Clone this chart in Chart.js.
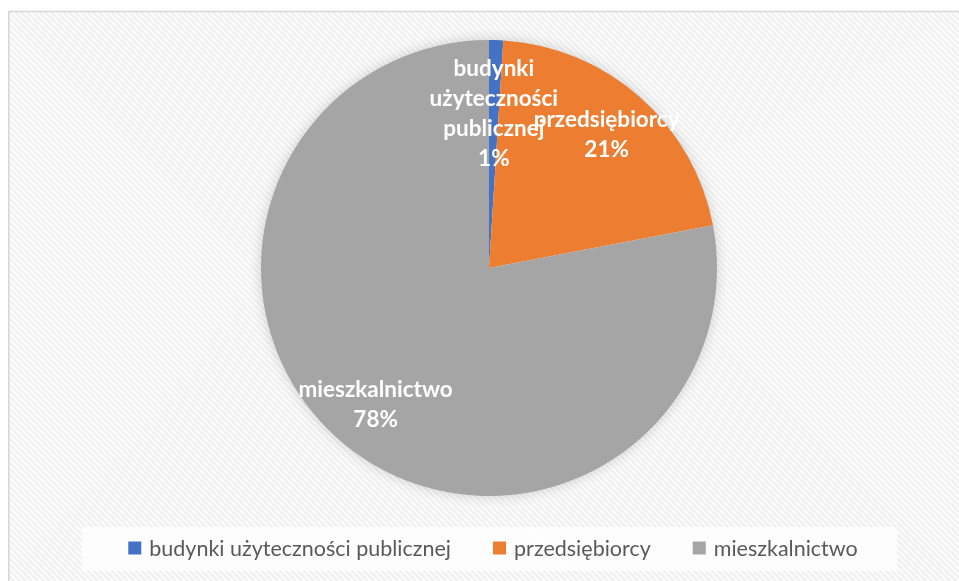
<!DOCTYPE html>
<html lang="pl">
<head>
<meta charset="utf-8">
<title>Struktura odbiorców</title>
<script src="https://cdn.jsdelivr.net/npm/chart.js@4.4.1/dist/chart.umd.min.js"></script>
<style>
  html, body { margin: 0; padding: 0; background: #ffffff; overflow: hidden; }
  #wrap { width: 959px; height: 581px; position: relative; }
</style>
</head>
<body>
<div id="wrap"><canvas id="chart" width="959" height="581"></canvas></div>
<script>
// Odbiorcy i ich udział procentowy
const categories = ['budynki użyteczności publicznej', 'przedsiębiorcy', 'mieszkalnictwo'];
const shares = [1, 21, 78];
const sliceColors = ['#4472C4', '#ED7D31', '#A5A5A5'];
// Etykiety na wycinkach, łamane na wiersze
const sliceLabelLines = [['budynki', 'użyteczności', 'publicznej'], ['przedsiębiorcy'], ['mieszkalnictwo']];

const LABEL_FONT = 'bold 22.5px Lato, "Open Sans", sans-serif';
const LEGEND_FONT = '21.5px Lato, "Open Sans", sans-serif';

// Tło obszaru wykresu: ukośne prążki i cienka ramka
const backgroundPlugin = {
  id: 'stripedBackground',
  beforeDraw(chart) {
    const ctx = chart.ctx;
    const W = chart.width, H = chart.height;
    const left = 8, top = 11;
    ctx.save();
    ctx.fillStyle = '#ffffff';
    ctx.fillRect(0, 0, W, H);
    ctx.fillStyle = '#fcfcfc';
    ctx.fillRect(left, top, W - left, H - top);
    ctx.beginPath();
    ctx.rect(left, top, W - left, H - top);
    ctx.clip();
    ctx.strokeStyle = '#f0f0f0';
    ctx.lineWidth = 2.2;
    const span = H - top;
    for (let k = left - span; k < W + 10; k += 6) {
      ctx.beginPath();
      ctx.moveTo(k, top);
      ctx.lineTo(k + span, top + span);
      ctx.stroke();
    }
    ctx.restore();
    ctx.save();
    ctx.strokeStyle = '#d6d6d6';
    ctx.lineWidth = 1.5;
    ctx.beginPath();
    ctx.moveTo(8.75, H + 2);
    ctx.lineTo(8.75, 11.5);
    ctx.lineTo(W + 2, 11.5);
    ctx.stroke();
    ctx.restore();
  }
};

// Miękki cień pod kołem
const shadowPlugin = {
  id: 'pieShadow',
  beforeDatasetsDraw(chart) {
    const arc = chart.getDatasetMeta(0).data[0];
    if (!arc) return;
    const p = arc.getProps(['x', 'y', 'outerRadius'], true);
    const ctx = chart.ctx;
    ctx.save();
    ctx.shadowColor = 'rgba(0,0,0,0.2)';
    ctx.shadowBlur = 14;
    ctx.fillStyle = '#ffffff';
    ctx.beginPath();
    ctx.arc(p.x, p.y, p.outerRadius - 1, 0, Math.PI * 2);
    ctx.fill();
    ctx.restore();
  }
};

// Etykiety danych wewnątrz wycinków
const sliceLabelPlugin = {
  id: 'sliceLabels',
  afterDatasetsDraw(chart) {
    const ctx = chart.ctx;
    const meta = chart.getDatasetMeta(0);
    const lineH = 30;
    ctx.save();
    ctx.font = LABEL_FONT;
    ctx.fillStyle = '#ffffff';
    ctx.textAlign = 'center';
    ctx.textBaseline = 'middle';
    meta.data.forEach((arc, i) => {
      const p = arc.getProps(['x', 'y', 'startAngle', 'endAngle', 'outerRadius'], true);
      const lines = sliceLabelLines[i].concat([shares[i] + '%']);
      const blockH = lines.length * lineH;
      const mid = (p.startAngle + p.endAngle) / 2;
      const dist = Math.min(p.outerRadius * 0.78, p.outerRadius - blockH / 2 - 14);
      const cx = p.x + Math.cos(mid) * dist;
      const cy = p.y + Math.sin(mid) * dist;
      lines.forEach((t, j) => {
        ctx.fillText(t, cx, cy - blockH / 2 + lineH * (j + 0.5));
      });
    });
    ctx.restore();
  }
};

// Legenda pod wykresem
const legendPlugin = {
  id: 'bottomLegend',
  afterDraw(chart) {
    const ctx = chart.ctx;
    ctx.save();
    ctx.fillStyle = 'rgba(255,255,255,0.8)';
    ctx.fillRect(82, 527, 815, 44);
    ctx.font = LEGEND_FONT;
    ctx.textBaseline = 'middle';
    const box = 13, gapBoxText = 8, gapItems = 42;
    const widths = categories.map(c => ctx.measureText(c).width);
    const total = widths.reduce((a, w) => a + box + gapBoxText + w, 0) + gapItems * (categories.length - 1);
    let x = 493 - total / 2;
    const y = 548;
    categories.forEach((c, i) => {
      ctx.fillStyle = sliceColors[i];
      ctx.fillRect(x, y - box / 2, box, box);
      x += box + gapBoxText;
      ctx.fillStyle = '#595959';
      ctx.fillText(c, x, y + 1);
      x += widths[i] + gapItems;
    });
    ctx.restore();
  }
};

new Chart(document.getElementById('chart'), {
  type: 'pie',
  data: {
    labels: categories,
    datasets: [{
      data: shares,
      backgroundColor: sliceColors,
      borderWidth: 0
    }]
  },
  options: {
    responsive: false,
    animation: false,
    layout: { padding: { left: 261, right: 242, top: 40, bottom: 85 } },
    plugins: {
      legend: { display: false },
      tooltip: { enabled: false }
    }
  },
  plugins: [backgroundPlugin, shadowPlugin, sliceLabelPlugin, legendPlugin]
});
</script>
</body>
</html>
